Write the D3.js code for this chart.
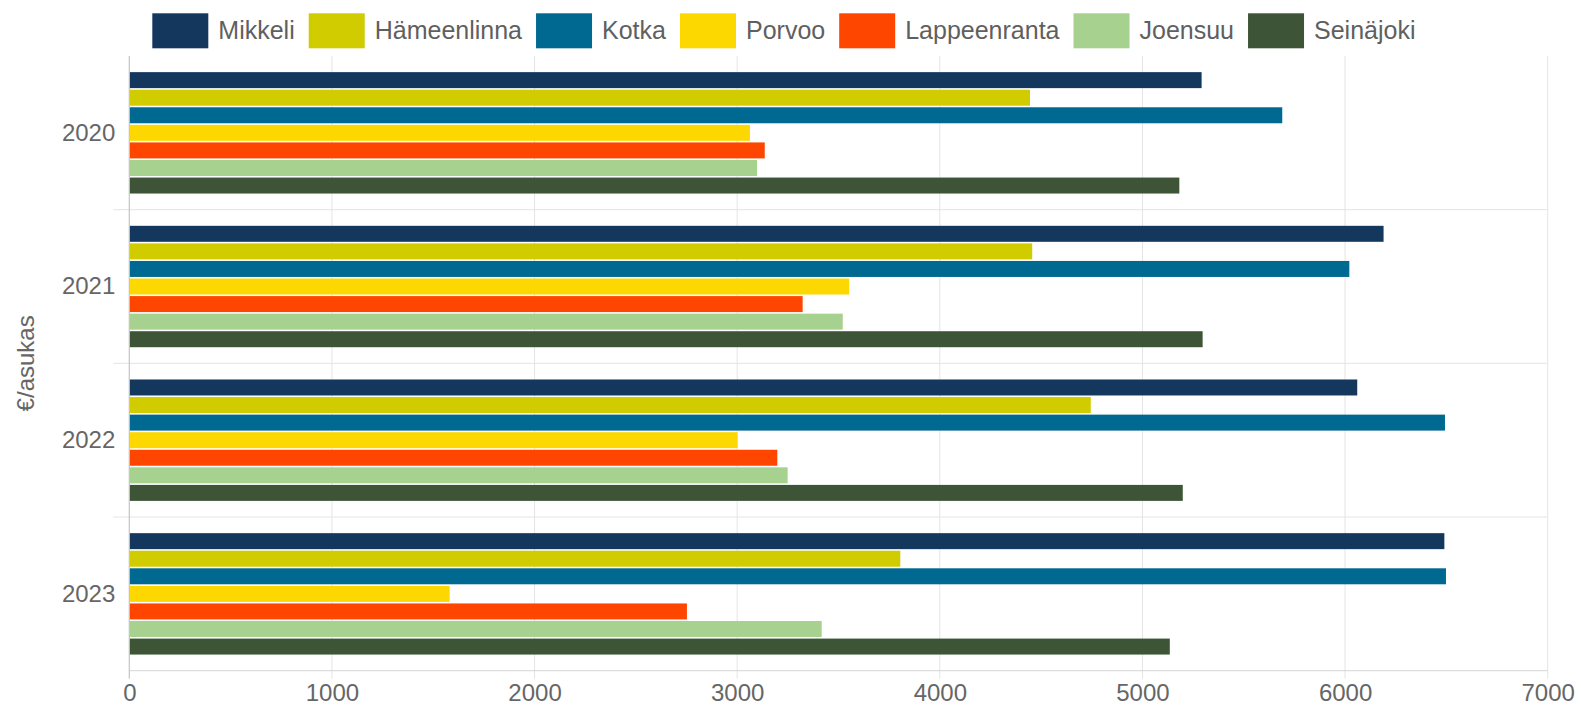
<!DOCTYPE html>
<html>
<head>
<meta charset="utf-8">
<script src="https://cdn.jsdelivr.net/npm/d3@7"></script>
<style>
  html, body { margin: 0; padding: 0; background: #ffffff; }
  svg { display: block; font-family: "Liberation Sans", Arial, sans-serif; }
</style>
</head>
<body>
<svg id="chart" width="1581" height="705"></svg>
<script>
// ---- data ----
const years = ["2020", "2021", "2022", "2023"];
const cities = ["Mikkeli", "Hämeenlinna", "Kotka", "Porvoo", "Lappeenranta", "Joensuu", "Seinäjoki"];
const colors = ["#14375e", "#d0cc00", "#006991", "#fdd800", "#ff4600", "#a6d18e", "#3d5536"];
const mikkeli      = [5292, 6190, 6060, 6490];
const hameenlinna  = [4445, 4456, 4745, 3805];
const kotka        = [5690, 6021, 6493, 6498];
const porvoo       = [3063, 3553, 3002, 1581];
const lappeenranta = [3136, 3323, 3198, 2752];
const joensuu      = [3098, 3521, 3249, 3417];
const seinajoki    = [5182, 5297, 5199, 5135];
const xTicks = [0, 1000, 2000, 3000, 4000, 5000, 6000, 7000];
const yTitle = "€/asukas";

const seriesValues = [mikkeli, hameenlinna, kotka, porvoo, lappeenranta, joensuu, seinajoki];
const rows = [];
years.forEach((yr, yi) => cities.forEach((c, ci) => rows.push({ year: yr, city: c, value: seriesValues[ci][yi] })));

// ---- layout ----
const svg = d3.select("#chart");
const mLeft = 129.3, mRight = 1547.7, mTop = 56, mBottom = 670.7;

const x = d3.scaleLinear().domain([0, 7000]).range([mLeft, mRight]);
const y0 = d3.scaleBand().domain(years).range([mTop, mBottom]).paddingInner(0.21).paddingOuter(0.105);
const y1 = d3.scaleBand().domain(cities).range([0, y0.bandwidth()]).paddingInner(0.09);
const color = d3.scaleOrdinal().domain(cities).range(colors);

const gridColor = "#e4e4e4";
const textColor = "#666666";

// vertical gridlines (with small tick extension below)
svg.append("g").selectAll("line").data(xTicks.slice(1)).join("line")
  .attr("x1", d => x(d)).attr("x2", d => x(d))
  .attr("y1", mTop).attr("y2", mBottom + 8)
  .attr("stroke", gridColor).attr("stroke-width", 1);

// horizontal band separators
const step = y0.step();
const seps = years.slice(1).map(yr => y0(yr) - y0.paddingInner() * step / 2);
svg.append("g").selectAll("line").data(seps).join("line")
  .attr("x1", mLeft - 16).attr("x2", mRight)
  .attr("y1", d => d).attr("y2", d => d)
  .attr("stroke", gridColor).attr("stroke-width", 1);

// bottom axis line
svg.append("line").attr("x1", mLeft).attr("x2", mRight).attr("y1", mBottom).attr("y2", mBottom)
  .attr("stroke", "#d6d6d6").attr("stroke-width", 1);

// bars
svg.append("g").selectAll("rect").data(rows).join("rect")
  .attr("x", x(0))
  .attr("y", d => y0(d.year) + y1(d.city))
  .attr("width", d => x(d.value) - x(0))
  .attr("height", y1.bandwidth())
  .attr("fill", d => color(d.city));

// left axis line
svg.append("line").attr("x1", mLeft).attr("x2", mLeft).attr("y1", mTop).attr("y2", mBottom + 8)
  .attr("stroke", "#c4c4c4").attr("stroke-width", 1.2);

// x axis labels via d3 axis
const xAxis = svg.append("g").attr("transform", `translate(0,${mBottom})`)
  .call(d3.axisBottom(x).tickValues(xTicks).tickFormat(d3.format("d")).tickSize(0).tickPadding(13));
xAxis.select(".domain").remove();
xAxis.selectAll("text").attr("fill", textColor).attr("font-size", 24)
  .attr("font-family", "'Liberation Sans', Arial, sans-serif");

// y axis labels via d3 axis
const yAxis = svg.append("g").attr("transform", `translate(${mLeft},0)`)
  .call(d3.axisLeft(y0).tickSize(0).tickPadding(14));
yAxis.select(".domain").remove();
yAxis.selectAll("text").attr("fill", textColor).attr("font-size", 24)
  .attr("font-family", "'Liberation Sans', Arial, sans-serif");

// y title
svg.append("text")
  .attr("transform", `translate(34,${(mTop + mBottom) / 2}) rotate(-90)`)
  .attr("text-anchor", "middle")
  .attr("fill", textColor).attr("font-size", 24)
  .text(yTitle);

// legend
const legend = svg.append("g");
const swW = 56, swH = 35, gapST = 10, gapItem = 14;
let cx = 0;
cities.forEach((c, i) => {
  const g = legend.append("g");
  g.append("rect").attr("x", cx).attr("y", 13.3).attr("width", swW).attr("height", swH).attr("fill", colors[i]);
  const t = g.append("text").attr("x", cx + swW + gapST).attr("y", 39)
    .attr("fill", "#5f5f5f").attr("font-size", 25).text(c);
  const w = t.node().getComputedTextLength();
  cx += swW + gapST + w + gapItem;
});
const totalW = cx - gapItem;
legend.attr("transform", `translate(${783.9 - totalW / 2},0)`);
</script>
</body>
</html>
